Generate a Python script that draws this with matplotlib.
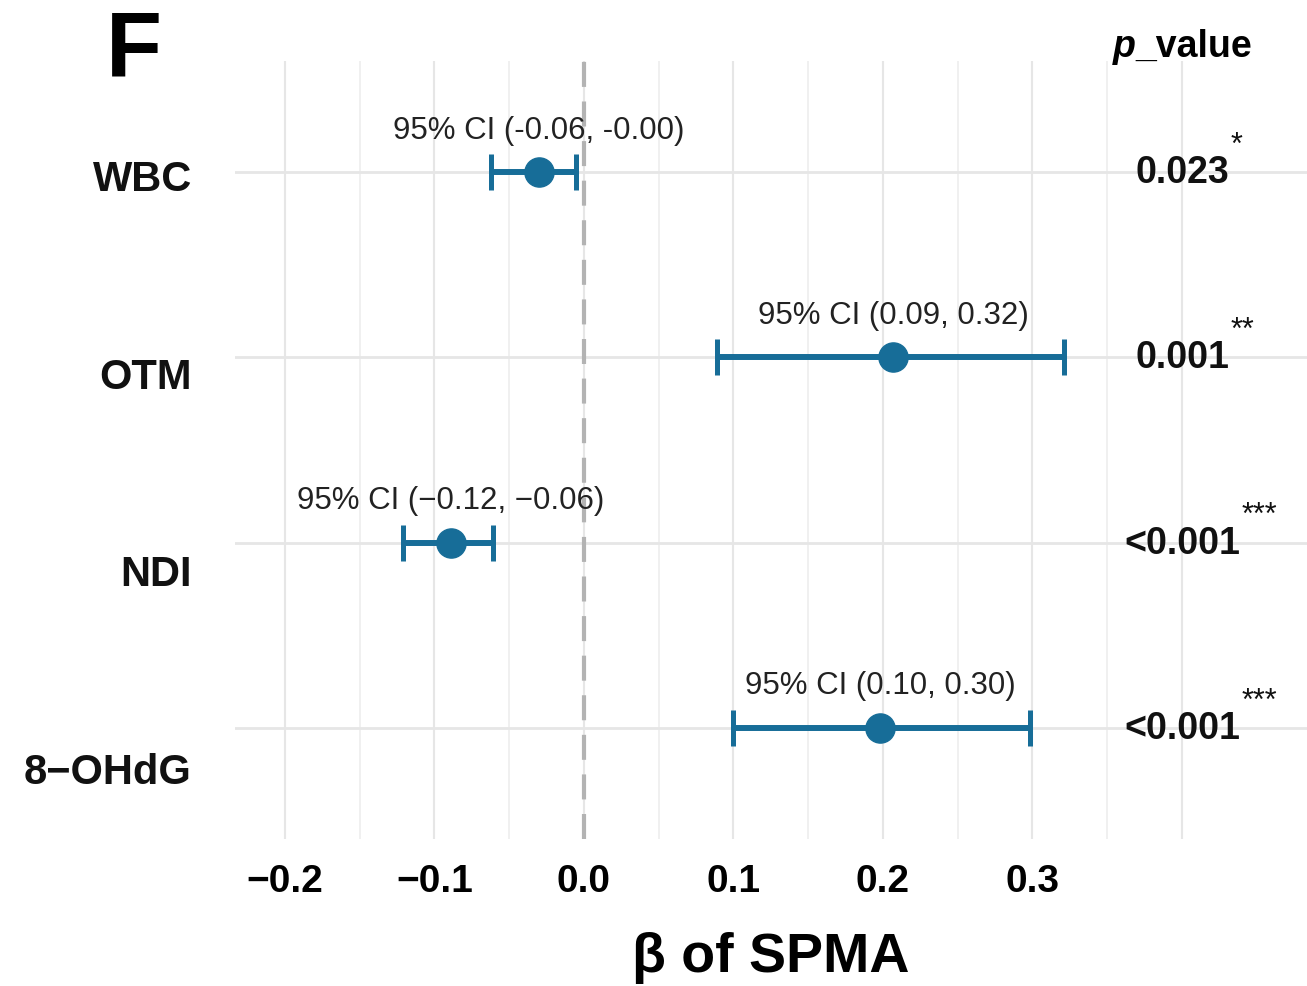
import matplotlib
matplotlib.use('Agg')
import matplotlib.pyplot as plt
import matplotlib.transforms as mtransforms
import numpy as np

plt.rcParams['font.family'] = ['Liberation Sans', 'DejaVu Sans']

# ---------------- data ----------------
categories = ['WBC', 'OTM', 'NDI', '8\u2212OHdG']
estimate = [-0.030, 0.207, -0.089, 0.198]
ci_low = [-0.062, 0.089, -0.121, 0.100]
ci_high = [-0.005, 0.321, -0.061, 0.298]
ci_labels = ['95% CI (-0.06, -0.00)', '95% CI (0.09, 0.32)',
             '95% CI (\u22120.12, \u22120.06)', '95% CI (0.10, 0.30)']
p_labels = ['0.023', '0.001', '<0.001', '<0.001']
p_stars = ['*', '**', '***', '***']
x_ticks = [-0.2, -0.1, 0.0, 0.1, 0.2, 0.3]
x_tick_labels = ['\u22120.2', '\u22120.1', '0.0', '0.1', '0.2', '0.3']
grid_major = [-0.2, -0.1, 0.0, 0.1, 0.2, 0.3, 0.4]
grid_minor = [-0.15, -0.05, 0.05, 0.15, 0.25, 0.35]
p_x = 0.40
x_label = '\u03b2 of SPMA'

color = '#176d98'
W, H = 1307, 987

fig = plt.figure(figsize=(W / 100, H / 100), dpi=100)
left_px, right_px, top_px, bot_px = 235, 1307, 62, 840
ax = fig.add_axes([left_px / W, 1 - bot_px / H, (right_px - left_px) / W, (bot_px - top_px) / H])

n = len(categories)
ypos = np.arange(n, 0, -1)  # WBC on top

# grid
for g in grid_major:
    ax.axvline(g, color='#e6e6e6', lw=1.5, zorder=0)
for g in grid_minor:
    ax.axvline(g, color='#ececec', lw=1.1, zorder=0)
for y in ypos:
    ax.axhline(y, color='#e6e6e6', lw=2.0, zorder=0)

ax.axvline(0, color='#b3b3b3', lw=3, ls=(0, (6, 3.5)), zorder=1)

est = np.array(estimate)
lo = np.array(ci_low)
hi = np.array(ci_high)
ax.errorbar(est, ypos, xerr=[est - lo, hi - est], fmt='o', color=color,
            ms=21, elinewidth=4.3, capsize=12.8, capthick=3.6, zorder=3)

for e, y, lab in zip(est, ypos, ci_labels):
    ax.text(e, y + 0.23, lab, ha='center', va='center', fontsize=22.5, color='#222222', zorder=4)

for y, p, s in zip(ypos, p_labels, p_stars):
    t = ax.text(p_x, y, p, ha='center', va='center', fontsize=27, fontweight='bold', color='#111111')
    ax.annotate(s, xy=(1, 1), xycoords=t, xytext=(1, -4), textcoords='offset points',
                ha='left', va='bottom', fontsize=22, color='#111111')

ax.set_xlim(-0.2334, 0.4836)
ax.set_ylim(0.4, 4.6)
ax.set_xticks(x_ticks)
ax.set_xticklabels(x_tick_labels, fontsize=28, fontweight='bold')
ax.set_yticks([])
ax.tick_params(axis='x', length=0, pad=17)
for sp in ax.spines.values():
    sp.set_visible(False)
ax.set_xlabel(x_label, fontsize=40, fontweight='bold', labelpad=23)

# header p_value
blend = mtransforms.blended_transform_factory(ax.transData, ax.transAxes)
pt = ax.annotate('p', xy=(p_x, 1.019), xycoords=blend, xytext=(-50, 0), textcoords='offset points',
                 ha='left', va='center', fontsize=27, fontweight='bold', fontstyle='italic', annotation_clip=False)
ax.annotate('_value', xy=(1, 0.5), xycoords=pt, ha='left', va='center', fontsize=27, fontweight='bold',
            annotation_clip=False)

# category labels panel
axl = fig.add_axes([0, 1 - bot_px / H, left_px / W, (bot_px - top_px) / H])
axl.set_xlim(0, 1)
axl.set_ylim(0.661, 4.597)
axl.axis('off')
for y, c in zip(ypos, categories):
    axl.text(0.817, y, c, ha='right', va='center', fontsize=30, fontweight='bold', color='#111111')

fig.text(134 / W, 1 - 52 / H, 'F', fontsize=66, fontweight='bold', ha='center', va='center')

fig.savefig('out.png', dpi=100)
